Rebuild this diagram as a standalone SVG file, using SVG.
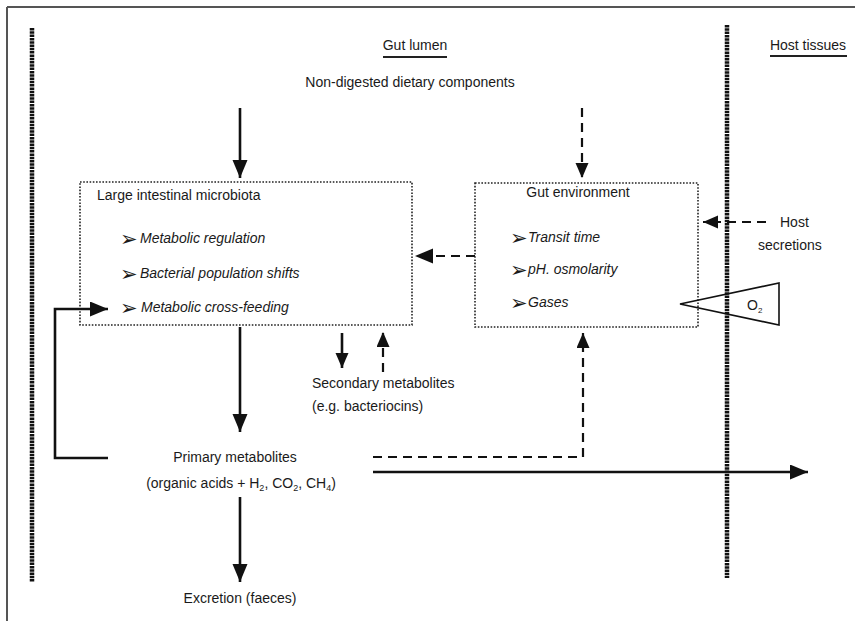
<svg xmlns="http://www.w3.org/2000/svg" width="855" height="621" viewBox="0 0 855 621">
<style>
text{font-family:"Liberation Sans",Arial,sans-serif;font-size:14px;fill:#1a1a1a}
.it{font-style:italic}
.bul{font-family:"DejaVu Sans",sans-serif;font-size:21px;font-style:normal;font-weight:bold}
.box{fill:none;stroke:#222;stroke-width:1.6;stroke-dasharray:1.6 1.6}
.mem{stroke:#111;stroke-width:4.5;stroke-dasharray:2.5 0.8}
.sol{fill:none;stroke:#111;stroke-width:2.6}
.dsh{fill:none;stroke:#111;stroke-width:2.2;stroke-dasharray:9 6}
.ul{stroke:#222;stroke-width:2}
</style>
<defs>
<marker id="ah" markerUnits="userSpaceOnUse" markerWidth="20" markerHeight="16" refX="18" refY="7.5" orient="auto">
<path d="M0,0 L18,7.5 L0,15 z" fill="#111"/>
</marker>
<marker id="ahs" markerUnits="userSpaceOnUse" markerWidth="16" markerHeight="14" refX="15" refY="6.5" orient="auto">
<path d="M0,0 L15,6.5 L0,13 z" fill="#111"/>
</marker>
</defs>
<rect width="855" height="621" fill="#fff"/>
<g id="frame">
<line x1="7" y1="7" x2="855" y2="7" stroke="#555" stroke-width="2"/>
<line x1="7" y1="7" x2="7" y2="621" stroke="#555" stroke-width="2"/>
</g>
<g id="membranes">
<line class="mem" x1="32" y1="28" x2="32" y2="582"/>
<line class="mem" x1="727" y1="25" x2="727" y2="578"/>
</g>
<g id="gut-lumen">
<text x="415" y="50" text-anchor="middle">Gut lumen</text>
<line class="ul" x1="383" y1="57" x2="447" y2="57"/>
</g>
<g id="host-tissues">
<text x="808" y="50" text-anchor="middle">Host tissues</text>
<line class="ul" x1="770" y1="56" x2="847" y2="56"/>
</g>
<g id="dietary">
<text x="410" y="87" text-anchor="middle">Non-digested dietary components</text>
</g>
<g id="microbiota">
<rect class="box" x="80" y="182" width="332" height="143"/>
<text x="97" y="200">Large intestinal microbiota</text>
<text x="120" y="246" class="bul">➢</text><text x="140" y="243" class="it">Metabolic regulation</text>
<text x="120" y="281" class="bul">➢</text><text x="140" y="278" class="it">Bacterial population shifts</text>
<text x="120" y="315" class="bul">➢</text><text x="141" y="312" class="it">Metabolic cross-feeding</text>
</g>
<g id="gut-environment">
<rect class="box" x="475" y="183" width="223" height="144"/>
<text x="578" y="197" text-anchor="middle">Gut environment</text>
<text x="510" y="245" class="bul">➢</text><text x="528" y="242" class="it">Transit time</text>
<text x="510" y="277" class="bul">➢</text><text x="528" y="274" class="it">pH. osmolarity</text>
<text x="510" y="310" class="bul">➢</text><text x="528" y="307" class="it">Gases</text>
</g>
<g id="host-secretions">
<text x="780" y="227">Host</text>
<text x="758" y="250">secretions</text>
</g>
<g id="oxygen">
<polygon points="680,304 779,283 779,325" fill="none" stroke="#111" stroke-width="1.6"/>
<text x="747" y="310" font-size="13">O<tspan font-size="8" dy="3">2</tspan></text>
</g>
<g id="secondary">
<text x="312" y="388">Secondary metabolites</text>
<text x="312" y="411">(e.g. bacteriocins)</text>
</g>
<g id="primary">
<text x="235" y="462" text-anchor="middle">Primary metabolites</text>
<text x="241" y="488" text-anchor="middle">(organic acids + H<tspan font-size="9" dy="3">2</tspan><tspan dy="-3">, CO</tspan><tspan font-size="9" dy="3">2</tspan><tspan dy="-3">, CH</tspan><tspan font-size="9" dy="3">4</tspan><tspan dy="-3">)</tspan></text>
</g>
<g id="excretion">
<text x="240" y="603" text-anchor="middle">Excretion (faeces)</text>
</g>
<g id="connectors">
<line class="sol" x1="240" y1="108" x2="240" y2="178" marker-end="url(#ah)"/>
<line class="dsh" x1="582" y1="108" x2="582" y2="178" marker-end="url(#ahs)"/>
<line class="dsh" x1="475" y1="256" x2="415" y2="256" marker-end="url(#ah)"/>
<line class="dsh" x1="766" y1="222" x2="703" y2="222" marker-end="url(#ahs)"/>
<line class="sol" x1="240" y1="327" x2="240" y2="432" marker-end="url(#ah)"/>
<line class="sol" x1="342" y1="333" x2="342" y2="368" marker-end="url(#ahs)"/>
<line class="dsh" x1="383" y1="372" x2="383" y2="332" marker-end="url(#ahs)" stroke-dasharray="7 5"/>
<polyline class="sol" points="108,458 55,458 55,309 108,309" marker-end="url(#ah)"/>
<polyline class="dsh" points="373,457 583,457 583,333" marker-end="url(#ahs)"/>
<line class="sol" x1="373" y1="472" x2="808" y2="472" stroke-width="3" marker-end="url(#ah)"/>
<line class="sol" x1="240" y1="497" x2="240" y2="582" marker-end="url(#ah)"/>
</g>
</svg>
